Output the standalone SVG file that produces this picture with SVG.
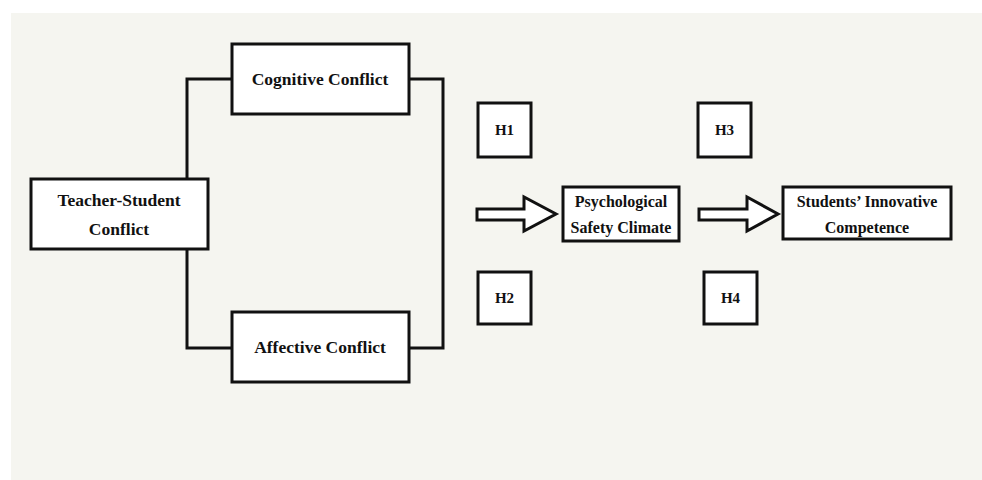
<svg xmlns="http://www.w3.org/2000/svg" width="982" height="480" viewBox="0 0 982 480">
<style>
.box{fill:#fff;stroke:#111;stroke-width:3}
.con{fill:none;stroke:#111;stroke-width:3}
.arr{fill:#fff;stroke:#111;stroke-width:3;stroke-linejoin:miter}
text{font-family:"Liberation Serif","Times New Roman",serif;font-weight:bold;fill:#111;text-anchor:middle}
.l{font-size:17.5px}
.m{font-size:16px}
.s{font-size:15px}
</style>
<rect x="0" y="0" width="982" height="480" fill="#fff"/>
<rect x="11" y="13" width="971" height="467" fill="#f5f5f0"/>
<g id="connectors">
<polyline class="con" points="232,79 187,79 187,179"/>
<polyline class="con" points="187,249 187,348 232,348"/>
<polyline class="con" points="409,79 443,79 443,348 409,348"/>
<polygon id="arrow1" class="arr" points="477,209 524,209 524,197 556,214 524,231 524,220 477,220"/>
<polygon id="arrow2" class="arr" points="699,209 747,209 747,197 778,214 747,231 747,220 699,220"/>
</g>
<g id="cognitive"><rect class="box" x="232" y="44" width="177" height="70"/><text class="l" x="320" y="85">Cognitive Conflict</text></g>
<g id="teacher"><rect class="box" x="31" y="179" width="177" height="70"/><text class="l" x="119" y="206">Teacher-Student</text><text class="l" x="119" y="235">Conflict</text></g>
<g id="affective"><rect class="box" x="232" y="312" width="177" height="70"/><text class="l" x="320" y="353">Affective Conflict</text></g>
<g id="h1"><rect class="box" x="478" y="103" width="53" height="54"/><text class="s" x="504.5" y="135">H1</text></g>
<g id="h2"><rect class="box" x="478" y="272" width="53" height="52"/><text class="s" x="504.5" y="303">H2</text></g>
<g id="h3"><rect class="box" x="698" y="103" width="53" height="54"/><text class="s" x="724.5" y="135">H3</text></g>
<g id="h4"><rect class="box" x="704" y="272" width="53" height="52"/><text class="s" x="730.5" y="303">H4</text></g>
<g id="psych"><rect class="box" x="563" y="187" width="116" height="54"/><text class="m" x="621" y="207">Psychological</text><text class="m" x="621" y="233">Safety Climate</text></g>
<g id="students"><rect class="box" x="783" y="187" width="168" height="52"/><text class="m" x="867" y="207">Students’ Innovative</text><text class="m" x="867" y="233">Competence</text></g>
</svg>
